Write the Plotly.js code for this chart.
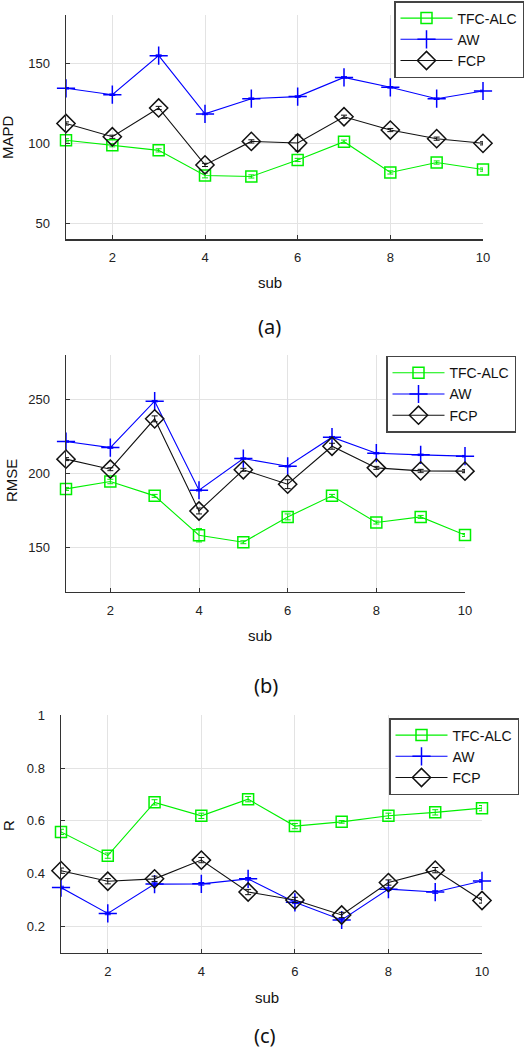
<!DOCTYPE html>
<html>
<head>
<meta charset="utf-8">
<script src="https://cdn.plot.ly/plotly-3.0.1.min.js"></script>
<style>html,body{margin:0;padding:0;background:#fff;}#chart{width:531px;height:1050px;}</style>
</head>
<body>
<div id="chart"></div>
<script>
const subs = [1,2,3,4,5,6,7,8,9,10];
const seriesNames = ['TFC-ALC','AW','FCP'];

// (a) MAPD
const mapdTFC = [101.7, 98.6, 95.4, 79.7, 79.1, 89.4, 100.8, 81.6, 87.8, 83.4];
const mapdAW  = [134.2, 130.2, 154.6, 118.2, 127.7, 129.0, 141.0, 134.8, 127.7, 132.5];
const mapdFCP = [112.2, 103.9, 121.9, 86.3, 101.0, 100.0, 116.4, 108.1, 102.7, 99.8];
const mapdErrTFC = [1, 1, 1, 1.5, 1, 1, 1, 1, 1, 1];
const mapdErrAW  = [0.5, 0.5, 0.5, 0.5, 0.5, 0.5, 0.5, 0.5, 0.5, 0.5];
const mapdErrFCP = [1, 1, 1, 1, 1, 5, 1, 1, 1, 1];

// (b) RMSE
const rmseTFC = [189.4, 194.4, 184.7, 158.1, 153.4, 170.5, 184.7, 166.7, 170.5, 158.3];
const rmseAW  = [221.4, 217.3, 248.6, 188.5, 209.9, 204.7, 224.3, 213.5, 212.4, 211.5];
const rmseFCP = [209.5, 202.7, 236.7, 174.5, 202.3, 192.6, 218.2, 203.6, 201.6, 201.4];
const rmseErrTFC = [1, 1.5, 1, 4.5, 1, 2, 1, 1, 1, 1];
const rmseErrAW  = [0.5, 0.5, 0.5, 0.5, 0.5, 0.5, 0.5, 0.5, 0.5, 0.5];
const rmseErrFCP = [1, 1, 2, 2, 1, 3, 2, 1, 1, 1];

// (c) R
const rTFC = [0.558, 0.468, 0.670, 0.619, 0.682, 0.580, 0.596, 0.619, 0.632, 0.648];
const rAW  = [0.347, 0.249, 0.360, 0.361, 0.380, 0.291, 0.224, 0.341, 0.330, 0.372];
const rFCP = [0.411, 0.371, 0.380, 0.451, 0.330, 0.300, 0.243, 0.366, 0.413, 0.298];
const rErrTFC = [0.01, 0.01, 0.01, 0.01, 0.01, 0.01, 0.005, 0.01, 0.01, 0.01];
const rErrAW  = [0.005, 0.005, 0.005, 0.005, 0.005, 0.005, 0.005, 0.005, 0.005, 0.005];
const rErrFCP = [0.01, 0.01, 0.01, 0.01, 0.01, 0.01, 0.01, 0.01, 0.01, 0.01];

const colors = ['#00f000', '#0000ff', '#111111'];
const symbols = ['square-open', 'cross-thin-open', 'diamond-open'];
const msizes = [11, 13, 14];

const panels = [
  {vals:[mapdTFC,mapdAW,mapdFCP], errs:[mapdErrTFC,mapdErrAW,mapdErrFCP], xa:'x', ya:'y', leg:'legend'},
  {vals:[rmseTFC,rmseAW,rmseFCP], errs:[rmseErrTFC,rmseErrAW,rmseErrFCP], xa:'x2', ya:'y2', leg:'legend2'},
  {vals:[rTFC,rAW,rFCP], errs:[rErrTFC,rErrAW,rErrFCP], xa:'x3', ya:'y3', leg:'legend3'}
];

const traces = [];
panels.forEach(p => {
  for (let i = 0; i < 3; i++) {
    traces.push({
      x: subs, y: p.vals[i], type: 'scatter', mode: 'lines+markers',
      name: seriesNames[i], xaxis: p.xa, yaxis: p.ya, legend: p.leg,
      cliponaxis: false,
      line: {color: colors[i], width: 1.1},
      marker: {symbol: symbols[i], size: msizes[i], color: colors[i], line: {color: colors[i], width: 1.5}},
      error_y: {type: 'data', array: p.errs[i], visible: true, color: colors[i], thickness: 1, width: 3}
    });
  }
});

const W = 531, H = 1050;
const px = v => v / W;
const py = v => 1 - v / H;

const tickFont = {family: 'Liberation Sans, Arial, sans-serif', size: 13, color: '#222'};
function xax(l, r) {
  return {
    domain: [px(l), px(r)], range: [1, 10], tickvals: [2,4,6,8,10],
    showgrid: true, gridcolor: '#e3e3e3', gridwidth: 1, zeroline: false,
    showline: true, linecolor: '#333', linewidth: 1.5, mirror: false,
    ticks: 'inside', ticklen: 4, tickcolor: '#333', tickfont: tickFont,
    ticklabelstandoff: 6, fixedrange: true
  };
}
function yax(t, b, range, tickvals, anchor) {
  return {
    domain: [py(b), py(t)], range: range, tickvals: tickvals, anchor: anchor,
    showgrid: true, gridcolor: '#e3e3e3', gridwidth: 1, zeroline: false,
    showline: true, linecolor: '#333', linewidth: 1.5, mirror: false,
    ticks: 'inside', ticklen: 4, tickcolor: '#333', tickfont: tickFont,
    ticklabelstandoff: 12, fixedrange: true
  };
}

const legFont = {family: 'Liberation Sans, Arial, sans-serif', size: 14, color: '#111'};
function leg(l, t) {
  return {x: px(l), y: py(t), xanchor: 'left', yanchor: 'top', bgcolor: '#fff',
    bordercolor: '#444', borderwidth: 1.5, font: legFont, itemwidth: 52, tracegroupgap: 0};
}

const annFont = {family: 'Liberation Sans, Arial, sans-serif', size: 15, color: '#111'};
const capFont = {family: 'Noto Sans, Open Sans, sans-serif', size: 20, color: '#111'};
function ann(text, x, y, font, angle) {
  return {text: text, x: px(x), y: py(y), xref: 'paper', yref: 'paper', showarrow: false,
    xanchor: 'center', yanchor: 'middle', font: font, textangle: angle || 0};
}

const layout = {
  width: W, height: H, margin: {l: 0, r: 0, t: 0, b: 0},
  paper_bgcolor: '#fff', plot_bgcolor: '#fff', showlegend: true,
  xaxis: Object.assign(xax(66, 483), {anchor: 'y'}),
  yaxis: yax(15, 239, [40, 180], [50, 100, 150], 'x'),
  xaxis2: Object.assign(xax(66, 465), {anchor: 'y2'}),
  yaxis2: yax(354.7, 591.7, [120, 280], [150, 200, 250], 'x2'),
  xaxis3: Object.assign(xax(61, 482), {anchor: 'y3'}),
  yaxis3: yax(715.3, 952.7, [0.1, 1], [0.2, 0.4, 0.6, 0.8, 1], 'x3'),
  legend: leg(394, 1),
  legend2: leg(386, 355.7),
  legend3: leg(389, 718),
  annotations: [
    ann('MAPD', 8, 137, annFont, -90),
    ann('sub', 270, 282, annFont),
    ann('(a)', 269, 327, capFont),
    ann('RMSE', 11, 481, annFont, -90),
    ann('sub', 260, 635, annFont),
    ann('(b)', 266, 685, capFont),
    ann('R', 8, 826, annFont, -90),
    ann('sub', 267, 997, annFont),
    ann('(c)', 265, 1035, capFont)
  ]
};

Plotly.newPlot('chart', traces, layout, {displayModeBar: false, staticPlot: true});
</script>
</body>
</html>
